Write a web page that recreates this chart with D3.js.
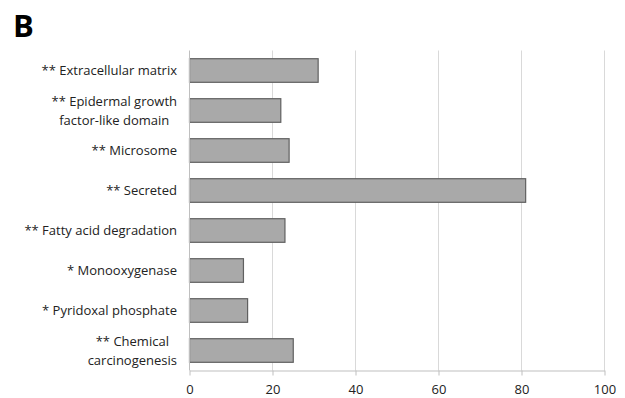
<!DOCTYPE html>
<html><head><meta charset="utf-8">
<script src="https://cdn.jsdelivr.net/npm/d3@7"></script>
<style>body{margin:0;background:#fff}svg{display:block}</style>
</head><body>
<svg id="c" width="625" height="398"></svg>
<script>
const categories = [
  ["** Extracellular matrix"],
  ["** Epidermal growth", "factor-like domain"],
  ["** Microsome"],
  ["** Secreted"],
  ["** Fatty acid degradation"],
  ["* Monooxygenase"],
  ["* Pyridoxal phosphate"],
  ["** Chemical", "carcinogenesis"]
];
const values = [31, 22, 24, 81, 23, 13, 14, 25];
const xTicks = [0, 20, 40, 60, 80, 100];
const panelLabel = "B";

const svg = d3.select("#c");
const font = "'Open Sans', 'Noto Sans', sans-serif";
const m = {left: 189.5, right: 604.5, top: 50.5, bottom: 370.5};
const x = d3.scaleLinear().domain([0, 100]).range([m.left, m.right]);
const y = d3.scaleBand().domain(d3.range(categories.length)).range([m.top, m.bottom]).paddingInner(0.41).paddingOuter(0.205);

svg.append("text").attr("x", 13).attr("y", 37).attr("font-family", font).attr("font-weight", "bold")
  .attr("font-size", 31).attr("fill", "#000").text(panelLabel);

// gridlines
svg.append("g").selectAll("line").data(xTicks.filter(d => d > 0)).join("line")
  .attr("x1", d => x(d)).attr("x2", d => x(d)).attr("y1", m.top).attr("y2", m.bottom)
  .attr("stroke", "#d9d9d9").attr("stroke-width", 1);

// bars
svg.append("g").selectAll("rect").data(values).join("rect")
  .attr("x", x(0)).attr("y", (d, i) => y(i)).attr("width", d => x(d) - x(0)).attr("height", y.bandwidth())
  .attr("fill", "#a9a9a9").attr("stroke", "#606060").attr("stroke-width", 1.2);

// left axis line
svg.append("line").attr("x1", x(0)).attr("x2", x(0)).attr("y1", m.top).attr("y2", m.bottom)
  .attr("stroke", "#bfbfbf").attr("stroke-width", 1);

// bottom axis
const xa = svg.append("g").attr("transform", `translate(0,${m.bottom})`)
  .call(d3.axisBottom(x).tickValues(xTicks).tickSize(5).tickSizeOuter(0).tickPadding(9));
xa.select(".domain").attr("stroke", "#bfbfbf");
xa.selectAll(".tick line").attr("stroke", "#bfbfbf");
xa.selectAll("text").attr("font-family", font).attr("font-size", 13).attr("fill", "#222");

// category labels
const labelRight = 177;
categories.forEach((lines, i) => {
  const cy = y(i) + y.bandwidth() / 2;
  const g = svg.append("g");
  const n = lines.length;
  const lh = 19;
  const texts = lines.map((ln, j) => g.append("text")
    .attr("font-family", font).attr("font-size", 13).attr("fill", "#222")
    .attr("y", cy + (j - (n - 1) / 2) * lh).attr("dy", "0.35em").text(ln));
  if (n === 1) {
    texts[0].attr("x", labelRight).attr("text-anchor", "end");
  } else {
    const w = d3.max(texts, t => t.node().getComputedTextLength());
    texts.forEach(t => t.attr("x", labelRight - w / 2).attr("text-anchor", "middle"));
  }
});
</script>
</body></html>
